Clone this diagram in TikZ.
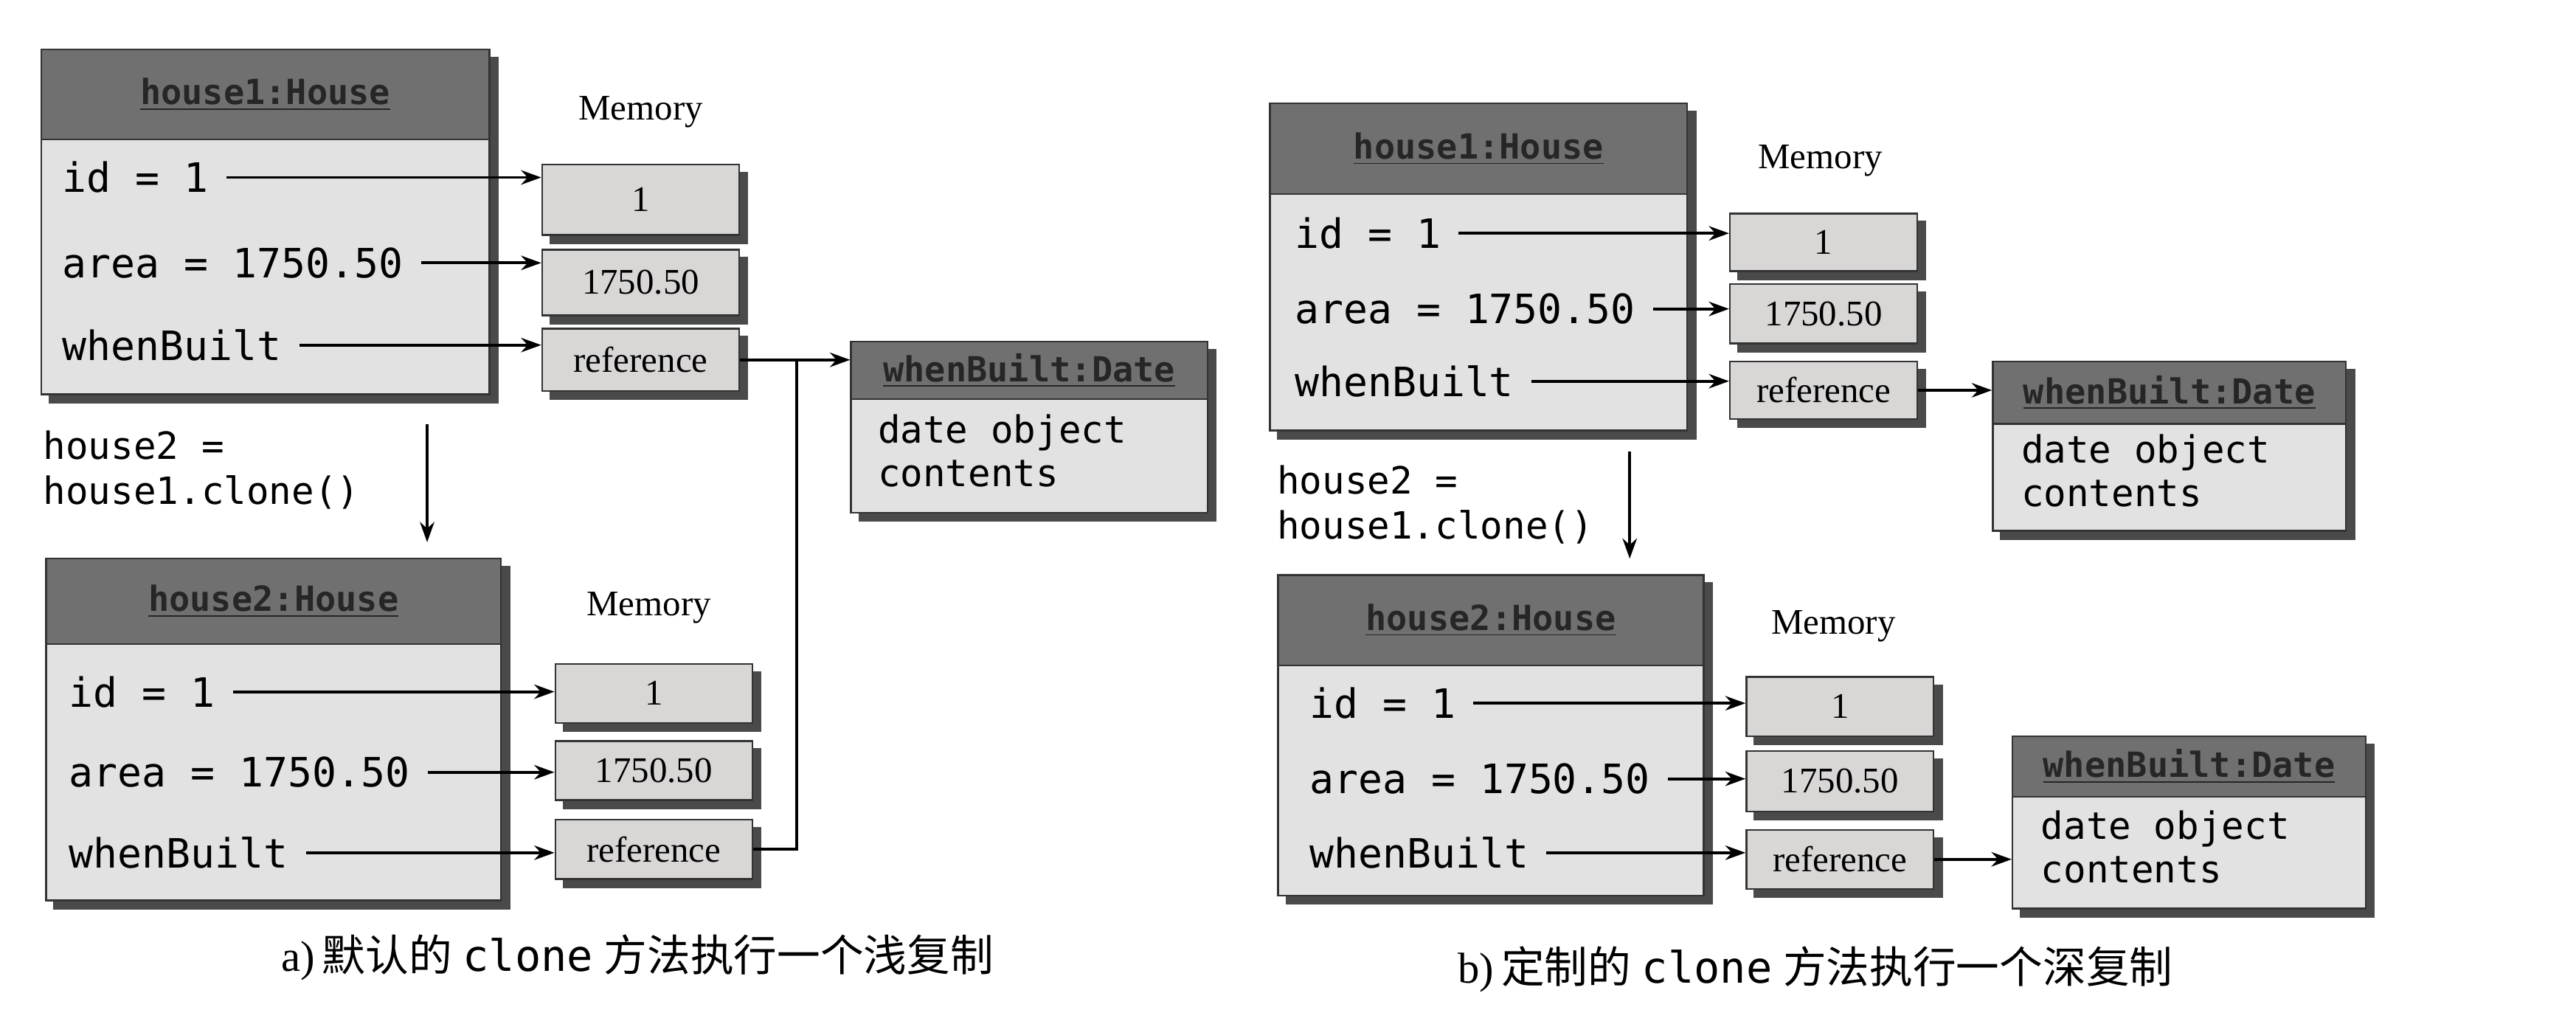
\documentclass[tikz,border=0pt]{standalone}
\usepackage{fontspec}
\setmainfont{Liberation Serif}
\setmonofont{DejaVu Sans Mono}
\newfontfamily\cjk{Noto Sans CJK SC}
\usetikzlibrary{fit,arrows.meta}
\definecolor{bodyc}{HTML}{E2E2E2}
\definecolor{headc}{HTML}{707070}
\definecolor{cellc}{HTML}{D9D6D6}
\definecolor{shadc}{HTML}{4A4A4A}
\tikzset{
 bx/.style={inner sep=0pt,draw=black!80,line width=0.6pt},
 monot/.style={font=\ttfamily\fontsize{14}{16}\selectfont,anchor=west,inner sep=1pt},
 celltxt/.style={font=\fontsize{12.5}{15}\selectfont},
 arr/.style={-{Stealth[length=7pt,width=5pt]},line width=1pt},
 tarr/.style={arr,shorten <=5pt},
 memlbl/.style={font=\fontsize{12.5}{15}\selectfont}
}
\newcommand\shbox[6]{%
 \node[bx,draw=none,fit={(#2,#3)(#4,#5)}] (#1) {};
 \fill[shadc] ([shift={(5,5)}]#1.north west) rectangle ([shift={(5,5)}]#1.south east);
 \node[bx,fill=#6,fit={(#2,#3)(#4,#5)}] (#1) {};}
\newcommand\objbox[7]{%
 \shbox{#1}{#2}{#3}{#4}{#5}{bodyc}
 \node[bx,fill=headc,fit={(#2,#3)(#4,#6)}] (#1-h) {};
 \node[font=\ttfamily\bfseries\fontsize{12}{14}\selectfont,text=black!85] at (#1-h) {\underline{#7}};}
\newcommand\cellbox[6]{%
 \shbox{#1}{#2}{#3}{#4}{#5}{cellc}
 \node[celltxt] at (#1) {#6};}
\begin{document}
\begin{tikzpicture}[x=0.02cm,y=-0.02cm]
\useasboundingbox (0,0) rectangle (1568,623);
% ===== panel a =====
\objbox{h1a}{25}{30}{298}{240}{85}{house1:House}
\node[monot] (a-id) at (36,108) {id = 1};
\node[monot] (a-ar) at (36,160) {area = 1750.50};
\node[monot] (a-wb) at (36,210) {whenBuilt};
\node[memlbl] at (390,68) {Memory};
\cellbox{a-c1}{330}{100}{450}{143}{1}
\cellbox{a-c2}{330}{152}{450}{192}{1750.50}
\cellbox{a-c3}{330}{200}{450}{238}{reference}
\draw[tarr] (a-id.east) -- (a-c1.west|-a-id);
\draw[tarr] (a-ar.east) -- (a-c2.west|-a-ar);
\draw[tarr] (a-wb.east) -- (a-c3.west|-a-wb);
\objbox{da}{518}{208}{735}{312}{243}{whenBuilt:Date}
\node[font=\ttfamily\fontsize{13}{15}\selectfont,align=left,anchor=north west,inner sep=0pt] at (534,252) {date object\\contents};
\draw[arr] (a-c3.east) -- (da.west|-a-c3);
\node[font=\ttfamily\fontsize{13}{15.5}\selectfont,align=left,anchor=north west,inner sep=0pt] (a-lbl) at (26,262) {house2 =\\house1.clone()};
\coordinate (a-d1) at (260,258); \coordinate (a-d2) at (260,330);
\draw[arr] (a-d1) -- (a-d2);
\objbox{h2a}{28}{340}{305}{548}{392}{house2:House}
\node[monot] (b-id) at (40,421) {id = 1};
\node[monot] (b-ar) at (40,470) {area = 1750.50};
\node[monot] (b-wb) at (40,519) {whenBuilt};
\node[memlbl] at (395,370) {Memory};
\cellbox{b-c1}{338}{404}{458}{440}{1}
\cellbox{b-c2}{338}{451}{458}{487}{1750.50}
\cellbox{b-c3}{338}{499}{458}{535}{reference}
\draw[tarr] (b-id.east) -- (b-c1.west|-b-id);
\draw[tarr] (b-ar.east) -- (b-c2.west|-b-ar);
\draw[tarr] (b-wb.east) -- (b-c3.west|-b-wb);
\coordinate (a-j) at (485,517);
\draw[line width=1pt] (b-c3.east) -- (a-j) -- (a-j|-a-c3);
\node[font=\fontsize{15}{17}\selectfont] at (388,583) {a)\,{\cjk 默认的} \texttt{clone} {\cjk 方法执行一个浅复制}};
% ===== panel b =====
\objbox{h1b}{773}{63}{1027}{262}{118}{house1:House}
\node[monot] (c-id) at (786,142) {id = 1};
\node[monot] (c-ar) at (786,188) {area = 1750.50};
\node[monot] (c-wb) at (786,232) {whenBuilt};
\node[memlbl] at (1108,98) {Memory};
\cellbox{c-c1}{1053}{130}{1167}{165}{1}
\cellbox{c-c2}{1053}{173}{1167}{209}{1750.50}
\cellbox{c-c3}{1053}{220}{1167}{255}{reference}
\draw[tarr] (c-id.east) -- (c-c1.west|-c-id);
\draw[tarr] (c-ar.east) -- (c-c2.west|-c-ar);
\draw[tarr] (c-wb.east) -- (c-c3.west|-c-wb);
\objbox{db1}{1213}{220}{1428}{323}{258}{whenBuilt:Date}
\node[font=\ttfamily\fontsize{13}{15}\selectfont,align=left,anchor=north west,inner sep=0pt] at (1230,264) {date object\\contents};
\draw[arr] (c-c3.east) -- (db1.west|-c-c3);
\node[font=\ttfamily\fontsize{13}{15.5}\selectfont,align=left,anchor=north west,inner sep=0pt] (b-lbl) at (777,283) {house2 =\\house1.clone()};
\coordinate (b-d1) at (992,275); \coordinate (b-d2) at (992,340);
\draw[arr] (b-d1) -- (b-d2);
\objbox{h2b}{778}{350}{1037}{545}{405}{house2:House}
\node[monot] (d-id) at (795,428) {id = 1};
\node[monot] (d-ar) at (795,474) {area = 1750.50};
\node[monot] (d-wb) at (795,519) {whenBuilt};
\node[memlbl] at (1116,381) {Memory};
\cellbox{d-c1}{1063}{412}{1177}{448}{1}
\cellbox{d-c2}{1063}{457}{1177}{494}{1750.50}
\cellbox{d-c3}{1063}{505}{1177}{541}{reference}
\draw[tarr] (d-id.east) -- (d-c1.west|-d-id);
\draw[tarr] (d-ar.east) -- (d-c2.west|-d-ar);
\draw[tarr] (d-wb.east) -- (d-c3.west|-d-wb);
\objbox{db2}{1225}{448}{1440}{553}{485}{whenBuilt:Date}
\node[font=\ttfamily\fontsize{13}{15}\selectfont,align=left,anchor=north west,inner sep=0pt] at (1242,493) {date object\\contents};
\draw[arr] (d-c3.east) -- (db2.west|-d-c3);
\node[font=\fontsize{15}{17}\selectfont] at (1105,590) {b)\,{\cjk 定制的} \texttt{clone} {\cjk 方法执行一个深复制}};
\end{tikzpicture}
\end{document}
